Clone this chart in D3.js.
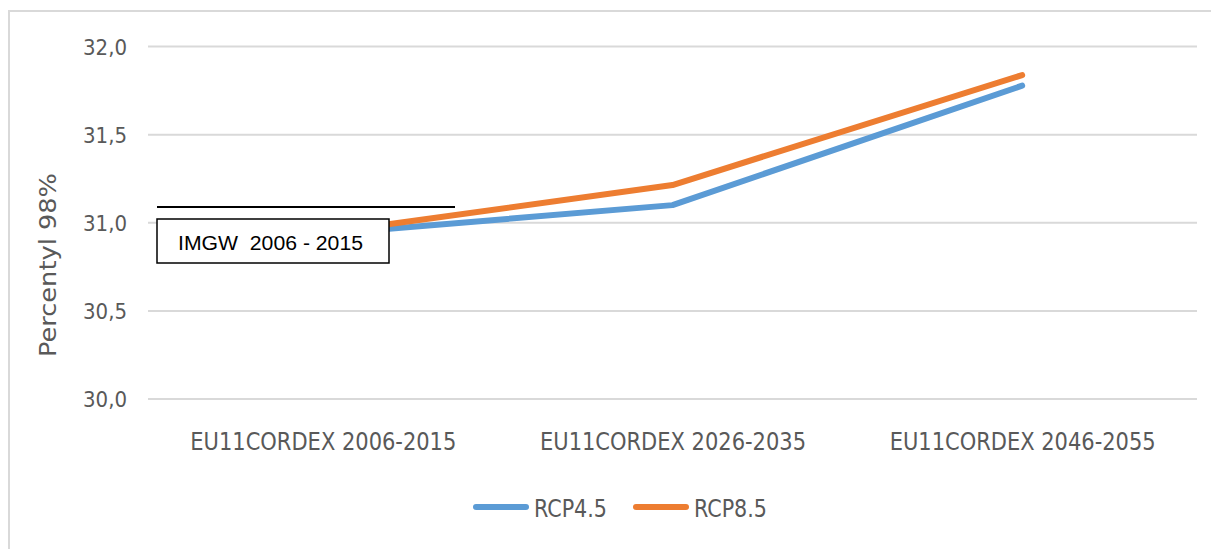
<!DOCTYPE html>
<html>
<head>
<meta charset="utf-8">
<script src="https://cdn.jsdelivr.net/npm/d3@7"></script>
<style>
  html, body { margin: 0; padding: 0; background: #fff; }
  svg { display: block; }
  .gray { font-family: 'Liberation Sans Narrow', 'DejaVu Sans Condensed', 'Open Sans', sans-serif; fill: #595959; }
</style>
</head>
<body>
<svg id="chart" width="1211" height="549"></svg>
<script>
const categories = ["EU11CORDEX 2006-2015", "EU11CORDEX 2026-2035", "EU11CORDEX 2046-2055"];
const rcp45 = [30.935, 31.10, 31.778];
const rcp85 = [30.94, 31.214, 31.838];
const seriesNames = ["RCP4.5", "RCP8.5"];
const seriesColors = ["#5b9bd5", "#ed7d31"];
const yTicks = [30.0, 30.5, 31.0, 31.5, 32.0];
const yTitle = "Percentyl 98%";
const annotation = "IMGW  2006 - 2015";

const svg = d3.select("#chart");

// outer chart border
svg.append("rect").attr("x", 9).attr("y", 11).attr("width", 1230).attr("height", 560)
  .attr("fill", "none").attr("stroke", "#d9d9d9").attr("stroke-width", 2);

const x = d3.scalePoint().domain(categories).range([148, 1197]).padding(0.5);
const y = d3.scaleLinear().domain([30, 32]).range([399, 46.5]);

// gridlines
svg.append("g").selectAll("line").data(yTicks).join("line")
  .attr("x1", 148).attr("x2", 1197)
  .attr("y1", d => y(d)).attr("y2", d => y(d))
  .attr("stroke", "#d9d9d9").attr("stroke-width", 2);

// y axis labels
const fmt = d => d3.format(".1f")(d).replace(".", ",");
const yAxis = d3.axisLeft(y).tickValues(yTicks).tickFormat(fmt).tickSize(0).tickPadding(0);
const gy = svg.append("g").attr("transform", "translate(127,0)").call(yAxis);
gy.select(".domain").remove();
gy.selectAll("text").attr("class", "gray").attr("font-size", 21)
  .attr("dy", "0.36em").attr("textLength", 44).attr("lengthAdjust", "spacingAndGlyphs");

// x axis labels
const xAxis = d3.axisBottom(x).tickSize(0).tickPadding(0);
const gx = svg.append("g").attr("transform", "translate(0,450)").call(xAxis);
gx.select(".domain").remove();
gx.selectAll("text").attr("class", "gray").attr("font-size", 24)
  .attr("dy", 0).attr("textLength", 266).attr("lengthAdjust", "spacingAndGlyphs");

// y title
svg.append("text").attr("class", "gray").attr("font-size", 23)
  .attr("transform", "translate(56,265) rotate(-90)")
  .attr("text-anchor", "middle")
  .attr("textLength", 184).attr("lengthAdjust", "spacingAndGlyphs")
  .text(yTitle);

// lines
const line = d3.line().x((d, i) => x(categories[i])).y(d => y(d));
[rcp45, rcp85].forEach((s, i) => {
  svg.append("path").datum(s).attr("d", line)
    .attr("fill", "none").attr("stroke", seriesColors[i])
    .attr("stroke-width", 6).attr("stroke-linecap", "round").attr("stroke-linejoin", "round");
});

// annotation: black line and box
svg.append("line").attr("x1", 157).attr("x2", 455).attr("y1", 207).attr("y2", 207)
  .attr("stroke", "#000").attr("stroke-width", 2);
svg.append("rect").attr("x", 157).attr("y", 219).attr("width", 232).attr("height", 44)
  .attr("fill", "#fff").attr("stroke", "#000").attr("stroke-width", 1.5);
svg.append("text").attr("x", 178).attr("y", 250)
  .attr("font-family", "'Liberation Sans', Arial, sans-serif").attr("font-size", 20)
  .attr("fill", "#000").style("white-space", "pre")
  .attr("textLength", 185).attr("lengthAdjust", "spacingAndGlyphs")
  .text(annotation);

// legend
const legendX = [473, 633];
seriesNames.forEach((n, i) => {
  svg.append("line").attr("x1", legendX[i] + 3).attr("x2", legendX[i] + 53)
    .attr("y1", 507).attr("y2", 507)
    .attr("stroke", seriesColors[i]).attr("stroke-width", 6).attr("stroke-linecap", "round");
  svg.append("text").attr("class", "gray").attr("font-size", 25)
    .attr("x", legendX[i] + 61).attr("y", 517)
    .attr("textLength", 73).attr("lengthAdjust", "spacingAndGlyphs")
    .text(n);
});
</script>
</body>
</html>
